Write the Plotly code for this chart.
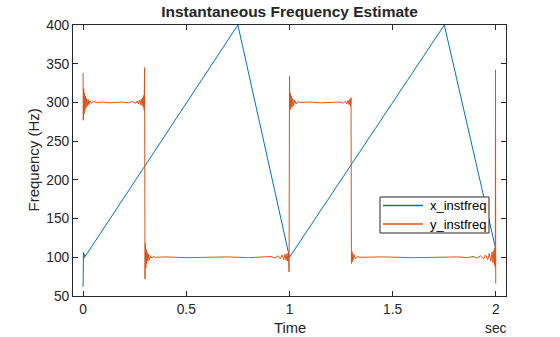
import plotly.graph_objects as go

# ---- data ----
x_time = [0.000, 0.002, 0.004, 0.006, 0.010, 0.750, 1.000, 1.750, 1.998]
x_freq = [62, 106, 99, 104, 101, 400, 100, 400, 112]

y_time = [
    0.000, 0.001, 0.003, 0.005, 0.007, 0.009, 0.011, 0.014, 0.017, 0.020, 0.024, 0.028,
    0.033, 0.040, 0.050, 0.070, 0.100, 0.130, 0.160, 0.190, 0.220, 0.240, 0.255, 0.262,
    0.268, 0.273, 0.278, 0.282, 0.286, 0.289, 0.292, 0.294, 0.296, 0.298,
    0.300, 0.302, 0.304, 0.306, 0.308, 0.311, 0.314, 0.318, 0.322, 0.327, 0.333, 0.340,
    0.350, 0.400, 0.500, 0.600, 0.700, 0.800, 0.880, 0.910, 0.930, 0.945, 0.955, 0.965,
    0.972, 0.978, 0.984, 0.988, 0.992, 0.995, 0.998,
    1.000, 1.002, 1.004, 1.006, 1.009, 1.012, 1.016, 1.020, 1.025, 1.032, 1.040, 1.050,
    1.100, 1.150, 1.200, 1.240, 1.260, 1.270, 1.278, 1.284, 1.289, 1.293, 1.296, 1.298,
    1.300, 1.302, 1.304, 1.307, 1.310, 1.314, 1.320, 1.330, 1.340, 1.450, 1.600, 1.750,
    1.820, 1.860, 1.890, 1.910, 1.925, 1.940, 1.950, 1.960, 1.968, 1.975, 1.981, 1.986,
    1.990, 1.993, 1.995, 1.997, 1.998, 1.999,
]
y_freq = [
    338, 277, 318, 285, 312, 290, 308, 293, 305, 295, 304, 297,
    302, 299, 301, 300, 300.5, 299.5, 300, 300.5, 299.5, 301, 299, 302,
    298, 303, 297, 304, 296, 306, 294, 309, 290, 345,
    72, 118, 86, 110, 92, 106, 95, 104, 97, 102, 99, 101,
    100, 100.5, 99.5, 100, 100.5, 99.5, 100, 101, 99, 102, 98, 103,
    97, 104, 96, 105, 95, 106, 81,
    334, 290, 312, 292, 308, 294, 305, 296, 303, 298, 301, 300,
    300.5, 299.5, 300, 300.5, 299, 301.5, 298, 302.5, 297, 304, 295, 306,
    92, 108, 94, 105, 97, 103, 98, 101, 100, 100.5, 99.5, 100,
    100.5, 99.5, 101, 99, 102, 98, 103, 97, 105, 95, 107, 93,
    109, 90, 112, 87, 342, 66,
]

x_ticks = [0, 0.5, 1, 1.5, 2]
x_tick_labels = ["0", "0.5", "1", "1.5", "2"]
y_ticks = [50, 100, 150, 200, 250, 300, 350, 400]
series_names = ["x_instfreq", "y_instfreq"]

BLUE = "#0072BD"
ORANGE = "#D95319"
AX = "#262626"
FONT = "Liberation Sans, Arial, sans-serif"

fig = go.Figure()
fig.add_trace(go.Scatter(x=x_time, y=x_freq, mode="lines", name=series_names[0],
                         line=dict(color=BLUE, width=1)))
fig.add_trace(go.Scatter(x=y_time, y=y_freq, mode="lines", name=series_names[1],
                         line=dict(color=ORANGE, width=1)))

axis_common = dict(showgrid=False, zeroline=False, showline=True, linecolor=AX,
                   linewidth=1, mirror="ticks", ticks="inside", ticklen=5,
                   tickcolor=AX, tickfont=dict(family=FONT, size=13.8, color=AX))

fig.update_xaxes(range=[-0.0488, 2.0488], tickvals=x_ticks, ticktext=x_tick_labels,
                 **axis_common)
fig.update_yaxes(range=[50, 400], tickvals=y_ticks, **axis_common)

# pixel -> paper helpers for the boxed legend (plot area: x 73..506, y 25..296)
def px(x):
    return (x - 73) / 433

def py(y):
    return (296 - y) / 271

shapes = [
    dict(type="rect", xref="paper", yref="paper", x0=px(380), x1=px(489),
         y0=py(233), y1=py(197), line=dict(color=AX, width=1), fillcolor="white",
         layer="above"),
    dict(type="line", xref="paper", yref="paper", x0=px(383), x1=px(423),
         y0=py(205.5), y1=py(205.5), line=dict(color=BLUE, width=1.3), layer="above"),
    dict(type="line", xref="paper", yref="paper", x0=px(383), x1=px(423),
         y0=py(224), y1=py(224), line=dict(color=ORANGE, width=1.3), layer="above"),
]

annotations = [
    dict(text="Time", x=0.5, y=0, xref="paper", yref="paper", xanchor="center",
         yanchor="middle", yshift=-32, showarrow=False,
         font=dict(size=14.8, color=AX, family=FONT)),
    dict(text="sec", x=2, y=0, xref="x", yref="paper", xanchor="center",
         yanchor="middle", yshift=-32, showarrow=False,
         font=dict(size=13.8, color=AX, family=FONT)),
    dict(text="Frequency (Hz)", x=0, y=0.5, xref="paper", yref="paper",
         xanchor="center", yanchor="middle", xshift=-40, textangle=-90,
         showarrow=False, font=dict(size=15, color=AX, family=FONT)),
    dict(text=series_names[0], x=px(428), y=py(205.5), xref="paper", yref="paper",
         xanchor="left", yanchor="middle", showarrow=False,
         font=dict(size=13, color="black", family=FONT)),
    dict(text=series_names[1], x=px(428), y=py(224), xref="paper", yref="paper",
         xanchor="left", yanchor="middle", showarrow=False,
         font=dict(size=13, color="black", family=FONT)),
]

fig.update_layout(
    width=560, height=337,
    margin=dict(l=73, r=54, t=25, b=41),
    paper_bgcolor="white", plot_bgcolor="white",
    font=dict(family=FONT, color=AX),
    showlegend=False,
    title=dict(text="<b>Instantaneous Frequency Estimate</b>", x=0.5, xref="paper",
               y=1 - 12 / 337, yref="container", yanchor="middle",
               xanchor="center", font=dict(size=15.5, color=AX, family=FONT)),
    shapes=shapes,
    annotations=annotations,
)

fig.write_html("out.html")
